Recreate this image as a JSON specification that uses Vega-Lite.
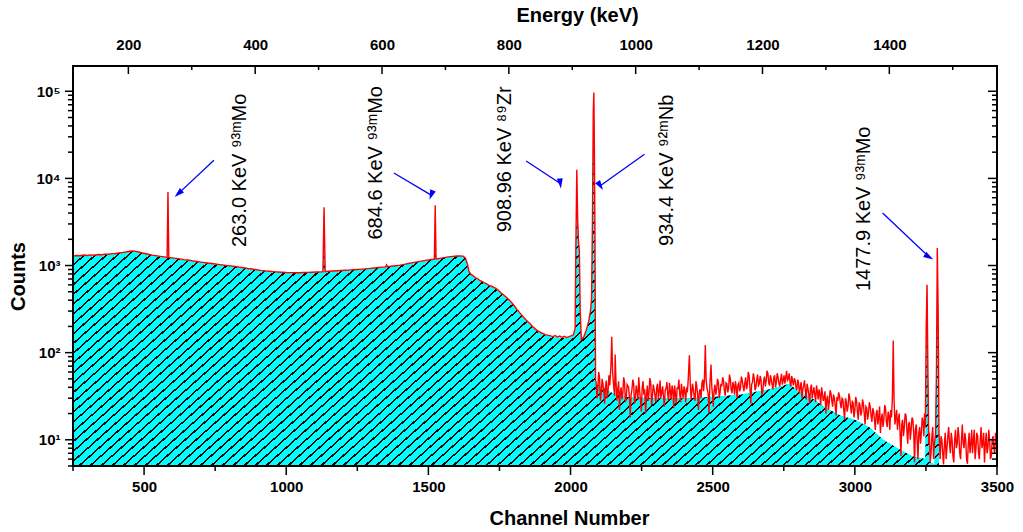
{
"$schema": "https://vega.github.io/schema/vega-lite/v6.json",
"width": 948, "height": 424,
"autosize": {"type": "none"},
"padding": {"left": 62, "top": 54, "right": 13, "bottom": 54},
"background": "white",
"config": {
  "view": {"stroke": null},
  "font": "Liberation Sans",
  "axis": {"labelFont": "Liberation Sans", "labelFontWeight": "bold", "labelFontSize": 15, "labelColor": "black",
           "titleFont": "Liberation Sans", "titleFontWeight": "bold", "titleFontSize": 20, "titleColor": "black",
           "domain": false, "ticks": false, "grid": false, "labelOverlap": false, "labelFlush": false}
},
"datasets": {
"spec": [
{"c":250,"n":1290},{"c":262,"n":1305},{"c":275,"n":1296},{"c":288,"n":1318},{"c":300,"n":1302},{"c":312,"n":1325},{"c":325,"n":1315},{"c":338,"n":1340},{"c":350,"n":1328},{"c":362,"n":1352},{"c":375,"n":1345},{"c":388,"n":1368},{"c":400,"n":1372},{"c":412,"n":1395},{"c":425,"n":1410},{"c":438,"n":1435},{"c":450,"n":1460},{"c":458,"n":1470},{"c":466,"n":1462},{"c":478,"n":1440},{"c":490,"n":1400},{"c":502,"n":1372},{"c":515,"n":1345},{"c":528,"n":1318},{"c":540,"n":1300},{"c":552,"n":1282},{"c":564,"n":1265},{"c":576,"n":1248},{"c":581,"n":1240},{"c":584,"n":6970},{"c":587,"n":1238},{"c":598,"n":1225},{"c":612,"n":1208},{"c":626,"n":1192},{"c":640,"n":1170},{"c":655,"n":1155},{"c":670,"n":1132},{"c":685,"n":1112},{"c":700,"n":1095},{"c":715,"n":1078},{"c":730,"n":1062},{"c":745,"n":1048},{"c":760,"n":1032},{"c":775,"n":1018},{"c":790,"n":1002},{"c":805,"n":990},{"c":820,"n":975},{"c":835,"n":958},{"c":850,"n":942},{"c":865,"n":925},{"c":880,"n":912},{"c":895,"n":895},{"c":910,"n":880},{"c":925,"n":868},{"c":940,"n":858},{"c":955,"n":850},{"c":970,"n":842},{"c":985,"n":836},{"c":1000,"n":830},{"c":1015,"n":828},{"c":1030,"n":826},{"c":1045,"n":827},{"c":1060,"n":830},{"c":1075,"n":834},{"c":1090,"n":838},{"c":1105,"n":842},{"c":1120,"n":846},{"c":1129,"n":848},{"c":1133,"n":4650},{"c":1137,"n":852},{"c":1148,"n":858},{"c":1162,"n":864},{"c":1178,"n":870},{"c":1192,"n":876},{"c":1206,"n":882},{"c":1220,"n":886},{"c":1235,"n":893},{"c":1250,"n":900},{"c":1265,"n":908},{"c":1280,"n":916},{"c":1295,"n":926},{"c":1310,"n":936},{"c":1325,"n":948},{"c":1340,"n":958},{"c":1350,"n":965},{"c":1353,"n":1015},{"c":1356,"n":970},{"c":1370,"n":982},{"c":1385,"n":995},{"c":1400,"n":1010},{"c":1415,"n":1032},{"c":1430,"n":1055},{"c":1445,"n":1078},{"c":1460,"n":1100},{"c":1475,"n":1122},{"c":1490,"n":1145},{"c":1505,"n":1165},{"c":1518,"n":1180},{"c":1521,"n":1185},{"c":1524,"n":4910},{"c":1527,"n":1190},{"c":1540,"n":1208},{"c":1555,"n":1232},{"c":1570,"n":1258},{"c":1585,"n":1275},{"c":1600,"n":1285},{"c":1612,"n":1290},{"c":1622,"n":1280},{"c":1630,"n":1220},{"c":1637,"n":1050},{"c":1643,"n":850},{"c":1650,"n":790},{"c":1658,"n":760},{"c":1666,"n":720},{"c":1674,"n":705},{"c":1682,"n":670},{"c":1690,"n":655},{"c":1698,"n":630},{"c":1706,"n":612},{"c":1714,"n":590},{"c":1722,"n":578},{"c":1730,"n":560},{"c":1738,"n":546},{"c":1746,"n":520},{"c":1754,"n":490},{"c":1762,"n":468},{"c":1770,"n":445},{"c":1778,"n":420},{"c":1786,"n":398},{"c":1794,"n":372},{"c":1802,"n":345},{"c":1810,"n":318},{"c":1818,"n":296},{"c":1826,"n":275},{"c":1834,"n":256},{"c":1842,"n":240},{"c":1850,"n":226},{"c":1858,"n":214},{"c":1866,"n":200},{"c":1874,"n":190},{"c":1882,"n":180},{"c":1890,"n":174},{"c":1898,"n":168},{"c":1906,"n":164},{"c":1914,"n":160},{"c":1922,"n":158},{"c":1930,"n":156},{"c":1938,"n":153},{"c":1946,"n":157},{"c":1954,"n":151},{"c":1962,"n":155},{"c":1970,"n":150},{"c":1978,"n":154},{"c":1986,"n":149},{"c":1994,"n":153},{"c":2002,"n":156},{"c":2010,"n":160},{"c":2016,"n":190},{"c":2019,"n":2000},{"c":2022,"n":12600},{"c":2025,"n":3500},{"c":2028,"n":1900},{"c":2031,"n":1500},{"c":2034,"n":300},{"c":2038,"n":142},{"c":2046,"n":150},{"c":2055,"n":180},{"c":2064,"n":230},{"c":2070,"n":300},{"c":2074,"n":420},{"c":2077,"n":3000},{"c":2080,"n":60000},{"c":2082,"n":96600},{"c":2084,"n":20000},{"c":2086,"n":2000},{"c":2088,"n":48},
{"c":2090,"n":46},{"c":2093,"n":30},{"c":2096,"n":38},{"c":2099,"n":60},{"c":2102,"n":52},{"c":2105,"n":28},{"c":2108,"n":34},{"c":2111,"n":50},{"c":2114,"n":44},{"c":2117,"n":36},{"c":2120,"n":26},{"c":2123,"n":41},{"c":2126,"n":48},{"c":2129,"n":30},{"c":2132,"n":36},{"c":2135,"n":55},{"c":2138,"n":42},{"c":2142,"n":70},{"c":2145,"n":152},{"c":2148,"n":60},{"c":2152,"n":40},{"c":2155,"n":32},{"c":2157,"n":95},{"c":2160,"n":45},{"c":2163,"n":28},{"c":2166,"n":38},{"c":2169,"n":47},{"c":2172,"n":22},{"c":2175,"n":35},{"c":2178,"n":40},{"c":2181,"n":29},{"c":2184,"n":34},{"c":2187,"n":52},{"c":2190,"n":46},{"c":2193,"n":27},{"c":2196,"n":30},{"c":2199,"n":43},
{"c":2204,"n":40},{"c":2207,"n":31},{"c":2210,"n":18},{"c":2213,"n":33},{"c":2216,"n":38},{"c":2219,"n":49},{"c":2222,"n":44},{"c":2225,"n":26},{"c":2228,"n":30},{"c":2231,"n":42},{"c":2234,"n":36},{"c":2237,"n":29},{"c":2240,"n":52},{"c":2243,"n":37},{"c":2246,"n":28},{"c":2249,"n":21},{"c":2252,"n":40},{"c":2255,"n":47},{"c":2258,"n":33},{"c":2261,"n":38},{"c":2264,"n":20},{"c":2267,"n":32},{"c":2270,"n":42},{"c":2273,"n":28},{"c":2276,"n":35},{"c":2279,"n":51},{"c":2282,"n":46},{"c":2285,"n":25},{"c":2288,"n":31},{"c":2291,"n":43},{"c":2294,"n":38},{"c":2297,"n":32},{"c":2300,"n":27},{"c":2303,"n":40},{"c":2306,"n":44},{"c":2309,"n":29},{"c":2312,"n":36},{"c":2315,"n":48},{"c":2318,"n":30},{"c":2321,"n":35},{"c":2324,"n":41},{"c":2327,"n":31},{"c":2330,"n":24},{"c":2333,"n":37},{"c":2336,"n":39},{"c":2339,"n":46},{"c":2342,"n":33},{"c":2345,"n":28},{"c":2348,"n":45},{"c":2351,"n":36},{"c":2354,"n":29},{"c":2357,"n":42},{"c":2360,"n":37},{"c":2363,"n":23},{"c":2366,"n":42},{"c":2369,"n":34},{"c":2372,"n":26},{"c":2375,"n":40},{"c":2378,"n":38},{"c":2381,"n":49},{"c":2384,"n":34},{"c":2387,"n":27},{"c":2390,"n":44},{"c":2393,"n":36},{"c":2396,"n":30},{"c":2399,"n":41},{"c":2402,"n":36},{"c":2405,"n":27},{"c":2408,"n":40},{"c":2411,"n":35},{"c":2414,"n":50},{"c":2418,"n":93},{"c":2421,"n":45},{"c":2424,"n":29},{"c":2426,"n":33},{"c":2429,"n":44},{"c":2432,"n":38},{"c":2435,"n":31},{"c":2438,"n":28},{"c":2441,"n":47},{"c":2444,"n":41},{"c":2447,"n":33},{"c":2450,"n":22},{"c":2453,"n":36},
{"c":2456,"n":38},{"c":2459,"n":30},{"c":2462,"n":44},{"c":2465,"n":49},{"c":2468,"n":36},{"c":2471,"n":50},{"c":2474,"n":122},{"c":2477,"n":48},{"c":2480,"n":39},{"c":2484,"n":34},{"c":2487,"n":20},{"c":2490,"n":42},{"c":2494,"n":73},{"c":2497,"n":40},{"c":2500,"n":31},{"c":2502,"n":24},{"c":2505,"n":37},{"c":2508,"n":43},{"c":2511,"n":33},{"c":2514,"n":38},{"c":2517,"n":50},{"c":2520,"n":46},{"c":2523,"n":30},{"c":2526,"n":35},{"c":2529,"n":44},{"c":2532,"n":41},{"c":2535,"n":52},{"c":2538,"n":48},{"c":2541,"n":37},{"c":2544,"n":32},{"c":2547,"n":45},{"c":2550,"n":44},{"c":2553,"n":35},{"c":2556,"n":39},{"c":2559,"n":56},{"c":2562,"n":50},{"c":2565,"n":38},{"c":2568,"n":34},{"c":2571,"n":46},{"c":2574,"n":42},{"c":2577,"n":33},{"c":2580,"n":47},{"c":2583,"n":40},{"c":2586,"n":30},{"c":2589,"n":43},{"c":2592,"n":45},{"c":2595,"n":36},{"c":2598,"n":40},{"c":2601,"n":53},
{"c":2604,"n":48},{"c":2607,"n":41},{"c":2610,"n":36},{"c":2613,"n":45},{"c":2616,"n":52},{"c":2619,"n":38},{"c":2622,"n":42},{"c":2625,"n":60},{"c":2628,"n":55},{"c":2631,"n":40},{"c":2634,"n":26},{"c":2637,"n":43},{"c":2640,"n":46},{"c":2643,"n":58},{"c":2646,"n":51},{"c":2649,"n":37},{"c":2652,"n":40},{"c":2655,"n":49},{"c":2658,"n":56},{"c":2661,"n":42},{"c":2664,"n":44},{"c":2667,"n":54},{"c":2670,"n":49},{"c":2673,"n":33},{"c":2676,"n":35},{"c":2679,"n":47},{"c":2682,"n":53},{"c":2685,"n":41},{"c":2688,"n":47},{"c":2691,"n":62},{"c":2694,"n":58},{"c":2697,"n":45},{"c":2700,"n":42},{"c":2703,"n":55},{"c":2706,"n":50},{"c":2709,"n":43},{"c":2712,"n":38},{"c":2715,"n":52},{"c":2718,"n":55},{"c":2721,"n":40},{"c":2724,"n":46},{"c":2727,"n":58},{"c":2730,"n":52},{"c":2733,"n":44},{"c":2736,"n":41},{"c":2739,"n":50},{"c":2742,"n":57},{"c":2745,"n":43},{"c":2748,"n":48},{"c":2751,"n":55},{"c":2754,"n":44},{"c":2757,"n":52},{"c":2760,"n":62},{"c":2763,"n":48},{"c":2766,"n":50},{"c":2769,"n":58},{"c":2772,"n":46},{"c":2775,"n":41},{"c":2778,"n":54},{"c":2781,"n":47},
{"c":2784,"n":42},{"c":2787,"n":51},{"c":2790,"n":48},{"c":2793,"n":40},{"c":2796,"n":37},{"c":2799,"n":49},{"c":2802,"n":45},{"c":2805,"n":34},{"c":2808,"n":40},{"c":2811,"n":46},{"c":2814,"n":30},{"c":2817,"n":38},{"c":2820,"n":42},{"c":2823,"n":48},{"c":2826,"n":36},{"c":2829,"n":29},{"c":2832,"n":44},{"c":2835,"n":39},{"c":2838,"n":33},{"c":2841,"n":26},{"c":2844,"n":39},{"c":2847,"n":43},{"c":2850,"n":30},{"c":2853,"n":35},{"c":2856,"n":40},{"c":2859,"n":33},{"c":2862,"n":27},{"c":2865,"n":42},{"c":2868,"n":36},{"c":2871,"n":29},{"c":2874,"n":38},{"c":2877,"n":33},{"c":2880,"n":25},{"c":2883,"n":40},{"c":2886,"n":34},{"c":2889,"n":28},{"c":2892,"n":30},{"c":2895,"n":36},{"c":2898,"n":20},{"c":2901,"n":29},
{"c":2904,"n":32},{"c":2907,"n":22},{"c":2910,"n":27},{"c":2913,"n":37},{"c":2916,"n":34},{"c":2919,"n":28},{"c":2922,"n":24},{"c":2925,"n":33},{"c":2928,"n":30},{"c":2931,"n":25},{"c":2934,"n":19},{"c":2937,"n":31},{"c":2940,"n":28},{"c":2943,"n":35},{"c":2946,"n":32},{"c":2949,"n":26},{"c":2952,"n":23},{"c":2955,"n":30},{"c":2958,"n":29},{"c":2961,"n":22},{"c":2964,"n":17},{"c":2967,"n":30},{"c":2970,"n":27},{"c":2973,"n":21},{"c":2976,"n":24},{"c":2979,"n":34},{"c":2982,"n":30},{"c":2985,"n":24},{"c":2988,"n":20},{"c":2991,"n":28},{"c":2994,"n":26},{"c":2997,"n":18},{"c":3000,"n":22},{"c":3003,"n":31},{"c":3006,"n":28},{"c":3009,"n":21},{"c":3012,"n":17},{"c":3015,"n":27},{"c":3018,"n":25},{"c":3021,"n":19},{"c":3024,"n":21},{"c":3027,"n":29},{"c":3030,"n":26},{"c":3033,"n":20},{"c":3036,"n":15},{"c":3039,"n":24},{"c":3042,"n":23},{"c":3045,"n":17},{"c":3048,"n":20},{"c":3051,"n":27},
{"c":3054,"n":24},{"c":3057,"n":19},{"c":3060,"n":16},{"c":3063,"n":23},{"c":3066,"n":21},{"c":3069,"n":17},{"c":3072,"n":13},{"c":3075,"n":20},{"c":3078,"n":22},{"c":3081,"n":15},{"c":3084,"n":18},{"c":3087,"n":24},{"c":3090,"n":12},{"c":3093,"n":17},{"c":3096,"n":20},{"c":3099,"n":14},{"c":3102,"n":17},{"c":3105,"n":25},{"c":3108,"n":23},{"c":3111,"n":16},{"c":3114,"n":14},{"c":3117,"n":21},{"c":3120,"n":19},{"c":3123,"n":13},{"c":3126,"n":22},{"c":3129,"n":18},{"c":3132,"n":30},{"c":3135,"n":138},{"c":3138,"n":28},{"c":3141,"n":15},{"c":3144,"n":18},{"c":3147,"n":22},{"c":3150,"n":13},{"c":3153,"n":17},{"c":3156,"n":20},{"c":3159,"n":12},{"c":3162,"n":6.5},{"c":3165,"n":15},{"c":3168,"n":17},{"c":3171,"n":11},{"c":3174,"n":14},{"c":3177,"n":20},{"c":3180,"n":19},{"c":3183,"n":13},{"c":3186,"n":9},{"c":3189,"n":15},{"c":3192,"n":16},{"c":3195,"n":10},{"c":3198,"n":13},{"c":3201,"n":18},
{"c":3204,"n":17},{"c":3207,"n":12},{"c":3210,"n":5.5},{"c":3213,"n":13},{"c":3216,"n":15},{"c":3219,"n":10},{"c":3222,"n":6},{"c":3225,"n":12},{"c":3228,"n":14},{"c":3231,"n":9},{"c":3234,"n":12},{"c":3237,"n":18},{"c":3240,"n":16},{"c":3243,"n":11},{"c":3245,"n":20},{"c":3248,"n":14},{"c":3251,"n":200},{"c":3254,"n":603},{"c":3257,"n":60},{"c":3260,"n":9},{"c":3262,"n":12},{"c":3265,"n":5.5},{"c":3268,"n":7},{"c":3271,"n":11},{"c":3274,"n":14},{"c":3277,"n":6},{"c":3280,"n":9},{"c":3284,"n":12},{"c":3287,"n":60},{"c":3290,"n":1590},{"c":3293,"n":300},{"c":3296,"n":12},
{"c":3300,"n":6},{"c":3303,"n":11},{"c":3306,"n":10},{"c":3309,"n":7},{"c":3312,"n":5.2},{"c":3315,"n":9},{"c":3318,"n":12},{"c":3321,"n":6},{"c":3324,"n":8},{"c":3327,"n":11},{"c":3330,"n":14},{"c":3333,"n":9},{"c":3336,"n":7},{"c":3339,"n":12},{"c":3342,"n":10},{"c":3345,"n":6.5},{"c":3348,"n":5.5},{"c":3351,"n":10},{"c":3354,"n":13},{"c":3357,"n":8},{"c":3360,"n":9},{"c":3363,"n":14},{"c":3366,"n":11},{"c":3369,"n":7},{"c":3372,"n":6},{"c":3375,"n":10},{"c":3378,"n":15},{"c":3381,"n":9},{"c":3384,"n":8},{"c":3387,"n":12},{"c":3390,"n":10},{"c":3393,"n":6},{"c":3396,"n":5.3},{"c":3399,"n":9},{"c":3402,"n":12},{"c":3405,"n":7},{"c":3408,"n":9},{"c":3411,"n":13},{"c":3414,"n":7},{"c":3417,"n":10},{"c":3420,"n":13},{"c":3423,"n":6},{"c":3426,"n":8},{"c":3429,"n":12},{"c":3432,"n":11},{"c":3435,"n":7},{"c":3438,"n":6},{"c":3441,"n":10},{"c":3444,"n":14},{"c":3447,"n":8},{"c":3450,"n":9},{"c":3453,"n":12},{"c":3456,"n":5.5},{"c":3459,"n":9},{"c":3462,"n":12},{"c":3465,"n":7},{"c":3468,"n":8},{"c":3471,"n":13},{"c":3474,"n":10},{"c":3477,"n":6},{"c":3480,"n":6.5},{"c":3483,"n":10},{"c":3486,"n":11},{"c":3489,"n":8},{"c":3492,"n":7},{"c":3495,"n":12},{"c":3498,"n":10},{"c":3500,"n":8}
],
"fill": [
{"c":250,"n":1290},{"c":300,"n":1302},{"c":350,"n":1328},{"c":400,"n":1370},{"c":458,"n":1465},{"c":502,"n":1370},{"c":552,"n":1280},{"c":581,"n":1238},{"c":584,"n":6970},{"c":587,"n":1236},{"c":640,"n":1168},{"c":700,"n":1093},{"c":760,"n":1030},{"c":820,"n":973},{"c":880,"n":910},{"c":940,"n":856},{"c":1000,"n":828},{"c":1060,"n":828},{"c":1120,"n":844},{"c":1129,"n":846},{"c":1133,"n":4650},{"c":1137,"n":850},{"c":1206,"n":880},{"c":1265,"n":906},{"c":1325,"n":946},{"c":1400,"n":1008},{"c":1460,"n":1098},{"c":1521,"n":1183},{"c":1524,"n":4910},{"c":1527,"n":1188},{"c":1585,"n":1273},{"c":1612,"n":1288},{"c":1622,"n":1278},{"c":1630,"n":1218},{"c":1637,"n":1045},{"c":1643,"n":845},{"c":1650,"n":785},{"c":1666,"n":715},{"c":1682,"n":665},{"c":1698,"n":625},{"c":1714,"n":585},{"c":1730,"n":555},{"c":1746,"n":515},{"c":1762,"n":462},{"c":1778,"n":415},{"c":1794,"n":368},{"c":1810,"n":314},{"c":1826,"n":272},{"c":1842,"n":236},{"c":1858,"n":210},{"c":1874,"n":187},{"c":1890,"n":171},{"c":1906,"n":161},{"c":1922,"n":155},{"c":1938,"n":150},{"c":1954,"n":149},{"c":1970,"n":148},{"c":1986,"n":147},{"c":2002,"n":152},{"c":2010,"n":157},{"c":2016,"n":188},{"c":2019,"n":2000},{"c":2022,"n":12600},{"c":2025,"n":3500},{"c":2028,"n":1900},{"c":2031,"n":1500},{"c":2034,"n":295},{"c":2038,"n":140},{"c":2046,"n":147},{"c":2055,"n":177},{"c":2064,"n":226},{"c":2070,"n":296},{"c":2074,"n":415},{"c":2077,"n":3000},{"c":2080,"n":60000},{"c":2082,"n":96600},{"c":2084,"n":20000},{"c":2086,"n":2000},{"c":2088,"n":46},{"c":2100,"n":42},{"c":2150,"n":34},{"c":2200,"n":31},{"c":2300,"n":30},{"c":2400,"n":30},{"c":2500,"n":31},{"c":2600,"n":33},{"c":2700,"n":38},{"c":2770,"n":44},{"c":2800,"n":36},{"c":2850,"n":30},{"c":2900,"n":23},{"c":2950,"n":19},{"c":3000,"n":17},{"c":3050,"n":14},{"c":3100,"n":10},{"c":3150,"n":8},{"c":3200,"n":6.5},{"c":3248,"n":6},{"c":3251,"n":200},{"c":3254,"n":603},{"c":3257,"n":60},{"c":3262,"n":5.6},{"c":3280,"n":5.2},{"c":3287,"n":60},{"c":3290,"n":1590},{"c":3293,"n":300},{"c":3296,"n":5.1},{"c":3300,"n":5},{"c":3500,"n":5}
],
"ann": [
{"c":836,"n":12380,"t":"263.0 KeV ⁹³ᵐMo"},
{"c":1314,"n":15100,"t":"684.6 KeV ⁹³ᵐMo"},
{"c":1768,"n":16560,"t":"908.96 KeV ⁸⁹Zr"},
{"c":2341,"n":12380,"t":"934.4 KeV ⁹²ᵐNb"},
{"c":3033,"n":4475,"t":"1477.9 KeV ⁹³ᵐMo"}
],
"arrows": [
{"id":"a","c":745.7,"n":16130,"c2":620.4,"n2":6687},
{"id":"b","c":1378.6,"n":11530,"c2":1510,"n2":6433},
{"id":"c","c":1844,"n":15835,"c2":1964,"n2":8734},
{"id":"d","c":2260,"n":18900,"c2":2104.6,"n2":8241},
{"id":"e","c":3097.8,"n":4003,"c2":3261,"n2":1254}
],
"xt": [{"v":250},{"v":500},{"v":750},{"v":1000},{"v":1250},{"v":1500},{"v":1750},{"v":2000},{"v":2250},{"v":2500},{"v":2750},{"v":3000},{"v":3250},{"v":3500}],
"yt": [{"v":5},{"v":6},{"v":7},{"v":8},{"v":9},{"v":10},{"v":20},{"v":30},{"v":40},{"v":50},{"v":60},{"v":70},{"v":80},{"v":90},{"v":100},{"v":200},{"v":300},{"v":400},{"v":500},{"v":600},{"v":700},{"v":800},{"v":900},{"v":1000},{"v":2000},{"v":3000},{"v":4000},{"v":5000},{"v":6000},{"v":7000},{"v":8000},{"v":9000},{"v":10000},{"v":20000},{"v":30000},{"v":40000},{"v":50000},{"v":60000},{"v":70000},{"v":80000},{"v":90000},{"v":100000}],
"energy": [{"e":200},{"e":300},{"e":400},{"e":500},{"e":600},{"e":700},{"e":800},{"e":900},{"e":1000},{"e":1100},{"e":1200},{"e":1300},{"e":1400},{"e":1500}]
},
"layer": [
{
 "encoding": {
   "x": {"field": "c", "type": "quantitative", "scale": {"domain": [211.31, 3545.72], "nice": false, "zero": false},
         "axis": {"orient": "bottom", "title": "Channel Number", "values": [500,1000,1500,2000,2500,3000,3500],
                  "format": "d", "domain": false, "ticks": false,
                  "labelPadding": 1, "titleX": 507, "titleY": 40, "titleBaseline": "middle", "titleAnchor": "middle"}},
   "y": {"field": "n", "type": "quantitative", "scale": {"type": "log", "domain": [3.6407, 267750], "nice": false},
         "axis": {"orient": "left", "title": "Counts",
                  "values": [10,100,1000,10000,100000],
                  "labelExpr": "datum.value==10?'10¹':datum.value==100?'10²':datum.value==1000?'10³':datum.value==10000?'10⁴':'10⁵'",
                  "domain": false, "ticks": false,
                  "labelPadding": 2, "titleAngle": 270, "titleX": -44, "titleY": 222, "titleBaseline": "middle", "titleAnchor": "middle"}}
 },
 "layer": [
   {"data": {"name": "fill"}, "mark": {"type": "area", "color": "#00ffff"}, "encoding": {"y2": {"datum": 5}}},
   {"data": {"name": "fill"},
    "mark": {"type": "area", "strokeWidth": 0,
      "fill": {"gradient": "linear", "x1": 0, "y1": 0, "x2": 1.2341, "y2": 0.5592, "stops": [
{"offset":0,"color":"#0ff"},
{"offset":0.004,"color":"#0ff"},{"offset":0.004,"color":"#000"},{"offset":0.0057,"color":"#000"},{"offset":0.0057,"color":"#0ff"},
{"offset":0.012,"color":"#0ff"},{"offset":0.012,"color":"#000"},{"offset":0.0137,"color":"#000"},{"offset":0.0137,"color":"#0ff"},
{"offset":0.020,"color":"#0ff"},{"offset":0.020,"color":"#000"},{"offset":0.0217,"color":"#000"},{"offset":0.0217,"color":"#0ff"},
{"offset":0.028,"color":"#0ff"},{"offset":0.028,"color":"#000"},{"offset":0.0297,"color":"#000"},{"offset":0.0297,"color":"#0ff"},
{"offset":0.036,"color":"#0ff"},{"offset":0.036,"color":"#000"},{"offset":0.0377,"color":"#000"},{"offset":0.0377,"color":"#0ff"},
{"offset":0.044,"color":"#0ff"},{"offset":0.044,"color":"#000"},{"offset":0.0457,"color":"#000"},{"offset":0.0457,"color":"#0ff"},
{"offset":0.052,"color":"#0ff"},{"offset":0.052,"color":"#000"},{"offset":0.0537,"color":"#000"},{"offset":0.0537,"color":"#0ff"},
{"offset":0.060,"color":"#0ff"},{"offset":0.060,"color":"#000"},{"offset":0.0617,"color":"#000"},{"offset":0.0617,"color":"#0ff"},
{"offset":0.068,"color":"#0ff"},{"offset":0.068,"color":"#000"},{"offset":0.0697,"color":"#000"},{"offset":0.0697,"color":"#0ff"},
{"offset":0.076,"color":"#0ff"},{"offset":0.076,"color":"#000"},{"offset":0.0777,"color":"#000"},{"offset":0.0777,"color":"#0ff"},
{"offset":0.084,"color":"#0ff"},{"offset":0.084,"color":"#000"},{"offset":0.0857,"color":"#000"},{"offset":0.0857,"color":"#0ff"},
{"offset":0.092,"color":"#0ff"},{"offset":0.092,"color":"#000"},{"offset":0.0937,"color":"#000"},{"offset":0.0937,"color":"#0ff"},
{"offset":0.100,"color":"#0ff"},{"offset":0.100,"color":"#000"},{"offset":0.1017,"color":"#000"},{"offset":0.1017,"color":"#0ff"},
{"offset":0.108,"color":"#0ff"},{"offset":0.108,"color":"#000"},{"offset":0.1097,"color":"#000"},{"offset":0.1097,"color":"#0ff"},
{"offset":0.116,"color":"#0ff"},{"offset":0.116,"color":"#000"},{"offset":0.1177,"color":"#000"},{"offset":0.1177,"color":"#0ff"},
{"offset":0.124,"color":"#0ff"},{"offset":0.124,"color":"#000"},{"offset":0.1257,"color":"#000"},{"offset":0.1257,"color":"#0ff"},
{"offset":0.132,"color":"#0ff"},{"offset":0.132,"color":"#000"},{"offset":0.1337,"color":"#000"},{"offset":0.1337,"color":"#0ff"},
{"offset":0.140,"color":"#0ff"},{"offset":0.140,"color":"#000"},{"offset":0.1417,"color":"#000"},{"offset":0.1417,"color":"#0ff"},
{"offset":0.148,"color":"#0ff"},{"offset":0.148,"color":"#000"},{"offset":0.1497,"color":"#000"},{"offset":0.1497,"color":"#0ff"},
{"offset":0.156,"color":"#0ff"},{"offset":0.156,"color":"#000"},{"offset":0.1577,"color":"#000"},{"offset":0.1577,"color":"#0ff"},
{"offset":0.164,"color":"#0ff"},{"offset":0.164,"color":"#000"},{"offset":0.1657,"color":"#000"},{"offset":0.1657,"color":"#0ff"},
{"offset":0.172,"color":"#0ff"},{"offset":0.172,"color":"#000"},{"offset":0.1737,"color":"#000"},{"offset":0.1737,"color":"#0ff"},
{"offset":0.180,"color":"#0ff"},{"offset":0.180,"color":"#000"},{"offset":0.1817,"color":"#000"},{"offset":0.1817,"color":"#0ff"},
{"offset":0.188,"color":"#0ff"},{"offset":0.188,"color":"#000"},{"offset":0.1897,"color":"#000"},{"offset":0.1897,"color":"#0ff"},
{"offset":0.196,"color":"#0ff"},{"offset":0.196,"color":"#000"},{"offset":0.1977,"color":"#000"},{"offset":0.1977,"color":"#0ff"},
{"offset":0.204,"color":"#0ff"},{"offset":0.204,"color":"#000"},{"offset":0.2057,"color":"#000"},{"offset":0.2057,"color":"#0ff"},
{"offset":0.212,"color":"#0ff"},{"offset":0.212,"color":"#000"},{"offset":0.2137,"color":"#000"},{"offset":0.2137,"color":"#0ff"},
{"offset":0.220,"color":"#0ff"},{"offset":0.220,"color":"#000"},{"offset":0.2217,"color":"#000"},{"offset":0.2217,"color":"#0ff"},
{"offset":0.228,"color":"#0ff"},{"offset":0.228,"color":"#000"},{"offset":0.2297,"color":"#000"},{"offset":0.2297,"color":"#0ff"},
{"offset":0.236,"color":"#0ff"},{"offset":0.236,"color":"#000"},{"offset":0.2377,"color":"#000"},{"offset":0.2377,"color":"#0ff"},
{"offset":0.244,"color":"#0ff"},{"offset":0.244,"color":"#000"},{"offset":0.2457,"color":"#000"},{"offset":0.2457,"color":"#0ff"},
{"offset":0.252,"color":"#0ff"},{"offset":0.252,"color":"#000"},{"offset":0.2537,"color":"#000"},{"offset":0.2537,"color":"#0ff"},
{"offset":0.260,"color":"#0ff"},{"offset":0.260,"color":"#000"},{"offset":0.2617,"color":"#000"},{"offset":0.2617,"color":"#0ff"},
{"offset":0.268,"color":"#0ff"},{"offset":0.268,"color":"#000"},{"offset":0.2697,"color":"#000"},{"offset":0.2697,"color":"#0ff"},
{"offset":0.276,"color":"#0ff"},{"offset":0.276,"color":"#000"},{"offset":0.2777,"color":"#000"},{"offset":0.2777,"color":"#0ff"},
{"offset":0.284,"color":"#0ff"},{"offset":0.284,"color":"#000"},{"offset":0.2857,"color":"#000"},{"offset":0.2857,"color":"#0ff"},
{"offset":0.292,"color":"#0ff"},{"offset":0.292,"color":"#000"},{"offset":0.2937,"color":"#000"},{"offset":0.2937,"color":"#0ff"},
{"offset":0.300,"color":"#0ff"},{"offset":0.300,"color":"#000"},{"offset":0.3017,"color":"#000"},{"offset":0.3017,"color":"#0ff"},
{"offset":0.308,"color":"#0ff"},{"offset":0.308,"color":"#000"},{"offset":0.3097,"color":"#000"},{"offset":0.3097,"color":"#0ff"},
{"offset":0.316,"color":"#0ff"},{"offset":0.316,"color":"#000"},{"offset":0.3177,"color":"#000"},{"offset":0.3177,"color":"#0ff"},
{"offset":0.324,"color":"#0ff"},{"offset":0.324,"color":"#000"},{"offset":0.3257,"color":"#000"},{"offset":0.3257,"color":"#0ff"},
{"offset":0.332,"color":"#0ff"},{"offset":0.332,"color":"#000"},{"offset":0.3337,"color":"#000"},{"offset":0.3337,"color":"#0ff"},
{"offset":0.340,"color":"#0ff"},{"offset":0.340,"color":"#000"},{"offset":0.3417,"color":"#000"},{"offset":0.3417,"color":"#0ff"},
{"offset":0.348,"color":"#0ff"},{"offset":0.348,"color":"#000"},{"offset":0.3497,"color":"#000"},{"offset":0.3497,"color":"#0ff"},
{"offset":0.356,"color":"#0ff"},{"offset":0.356,"color":"#000"},{"offset":0.3577,"color":"#000"},{"offset":0.3577,"color":"#0ff"},
{"offset":0.364,"color":"#0ff"},{"offset":0.364,"color":"#000"},{"offset":0.3657,"color":"#000"},{"offset":0.3657,"color":"#0ff"},
{"offset":0.372,"color":"#0ff"},{"offset":0.372,"color":"#000"},{"offset":0.3737,"color":"#000"},{"offset":0.3737,"color":"#0ff"},
{"offset":0.380,"color":"#0ff"},{"offset":0.380,"color":"#000"},{"offset":0.3817,"color":"#000"},{"offset":0.3817,"color":"#0ff"},
{"offset":0.388,"color":"#0ff"},{"offset":0.388,"color":"#000"},{"offset":0.3897,"color":"#000"},{"offset":0.3897,"color":"#0ff"},
{"offset":0.396,"color":"#0ff"},{"offset":0.396,"color":"#000"},{"offset":0.3977,"color":"#000"},{"offset":0.3977,"color":"#0ff"},
{"offset":0.404,"color":"#0ff"},{"offset":0.404,"color":"#000"},{"offset":0.4057,"color":"#000"},{"offset":0.4057,"color":"#0ff"},
{"offset":0.412,"color":"#0ff"},{"offset":0.412,"color":"#000"},{"offset":0.4137,"color":"#000"},{"offset":0.4137,"color":"#0ff"},
{"offset":0.420,"color":"#0ff"},{"offset":0.420,"color":"#000"},{"offset":0.4217,"color":"#000"},{"offset":0.4217,"color":"#0ff"},
{"offset":0.428,"color":"#0ff"},{"offset":0.428,"color":"#000"},{"offset":0.4297,"color":"#000"},{"offset":0.4297,"color":"#0ff"},
{"offset":0.436,"color":"#0ff"},{"offset":0.436,"color":"#000"},{"offset":0.4377,"color":"#000"},{"offset":0.4377,"color":"#0ff"},
{"offset":0.444,"color":"#0ff"},{"offset":0.444,"color":"#000"},{"offset":0.4457,"color":"#000"},{"offset":0.4457,"color":"#0ff"},
{"offset":0.452,"color":"#0ff"},{"offset":0.452,"color":"#000"},{"offset":0.4537,"color":"#000"},{"offset":0.4537,"color":"#0ff"},
{"offset":0.460,"color":"#0ff"},{"offset":0.460,"color":"#000"},{"offset":0.4617,"color":"#000"},{"offset":0.4617,"color":"#0ff"},
{"offset":0.468,"color":"#0ff"},{"offset":0.468,"color":"#000"},{"offset":0.4697,"color":"#000"},{"offset":0.4697,"color":"#0ff"},
{"offset":0.476,"color":"#0ff"},{"offset":0.476,"color":"#000"},{"offset":0.4777,"color":"#000"},{"offset":0.4777,"color":"#0ff"},
{"offset":0.484,"color":"#0ff"},{"offset":0.484,"color":"#000"},{"offset":0.4857,"color":"#000"},{"offset":0.4857,"color":"#0ff"},
{"offset":0.492,"color":"#0ff"},{"offset":0.492,"color":"#000"},{"offset":0.4937,"color":"#000"},{"offset":0.4937,"color":"#0ff"},
{"offset":0.500,"color":"#0ff"},{"offset":0.500,"color":"#000"},{"offset":0.5017,"color":"#000"},{"offset":0.5017,"color":"#0ff"},
{"offset":0.508,"color":"#0ff"},{"offset":0.508,"color":"#000"},{"offset":0.5097,"color":"#000"},{"offset":0.5097,"color":"#0ff"},
{"offset":0.516,"color":"#0ff"},{"offset":0.516,"color":"#000"},{"offset":0.5177,"color":"#000"},{"offset":0.5177,"color":"#0ff"},
{"offset":0.524,"color":"#0ff"},{"offset":0.524,"color":"#000"},{"offset":0.5257,"color":"#000"},{"offset":0.5257,"color":"#0ff"},
{"offset":0.532,"color":"#0ff"},{"offset":0.532,"color":"#000"},{"offset":0.5337,"color":"#000"},{"offset":0.5337,"color":"#0ff"},
{"offset":0.540,"color":"#0ff"},{"offset":0.540,"color":"#000"},{"offset":0.5417,"color":"#000"},{"offset":0.5417,"color":"#0ff"},
{"offset":0.548,"color":"#0ff"},{"offset":0.548,"color":"#000"},{"offset":0.5497,"color":"#000"},{"offset":0.5497,"color":"#0ff"},
{"offset":0.556,"color":"#0ff"},{"offset":0.556,"color":"#000"},{"offset":0.5577,"color":"#000"},{"offset":0.5577,"color":"#0ff"},
{"offset":0.564,"color":"#0ff"},{"offset":0.564,"color":"#000"},{"offset":0.5657,"color":"#000"},{"offset":0.5657,"color":"#0ff"},
{"offset":0.572,"color":"#0ff"},{"offset":0.572,"color":"#000"},{"offset":0.5737,"color":"#000"},{"offset":0.5737,"color":"#0ff"},
{"offset":0.580,"color":"#0ff"},{"offset":0.580,"color":"#000"},{"offset":0.5817,"color":"#000"},{"offset":0.5817,"color":"#0ff"},
{"offset":0.588,"color":"#0ff"},{"offset":0.588,"color":"#000"},{"offset":0.5897,"color":"#000"},{"offset":0.5897,"color":"#0ff"},
{"offset":0.596,"color":"#0ff"},{"offset":0.596,"color":"#000"},{"offset":0.5977,"color":"#000"},{"offset":0.5977,"color":"#0ff"},
{"offset":0.604,"color":"#0ff"},{"offset":0.604,"color":"#000"},{"offset":0.6057,"color":"#000"},{"offset":0.6057,"color":"#0ff"},
{"offset":0.612,"color":"#0ff"},{"offset":0.612,"color":"#000"},{"offset":0.6137,"color":"#000"},{"offset":0.6137,"color":"#0ff"},
{"offset":0.620,"color":"#0ff"},{"offset":0.620,"color":"#000"},{"offset":0.6217,"color":"#000"},{"offset":0.6217,"color":"#0ff"},
{"offset":0.628,"color":"#0ff"},{"offset":0.628,"color":"#000"},{"offset":0.6297,"color":"#000"},{"offset":0.6297,"color":"#0ff"},
{"offset":0.636,"color":"#0ff"},{"offset":0.636,"color":"#000"},{"offset":0.6377,"color":"#000"},{"offset":0.6377,"color":"#0ff"},
{"offset":0.644,"color":"#0ff"},{"offset":0.644,"color":"#000"},{"offset":0.6457,"color":"#000"},{"offset":0.6457,"color":"#0ff"},
{"offset":0.652,"color":"#0ff"},{"offset":0.652,"color":"#000"},{"offset":0.6537,"color":"#000"},{"offset":0.6537,"color":"#0ff"},
{"offset":0.660,"color":"#0ff"},{"offset":0.660,"color":"#000"},{"offset":0.6617,"color":"#000"},{"offset":0.6617,"color":"#0ff"},
{"offset":0.668,"color":"#0ff"},{"offset":0.668,"color":"#000"},{"offset":0.6697,"color":"#000"},{"offset":0.6697,"color":"#0ff"},
{"offset":0.676,"color":"#0ff"},{"offset":0.676,"color":"#000"},{"offset":0.6777,"color":"#000"},{"offset":0.6777,"color":"#0ff"},
{"offset":0.684,"color":"#0ff"},{"offset":0.684,"color":"#000"},{"offset":0.6857,"color":"#000"},{"offset":0.6857,"color":"#0ff"},
{"offset":0.692,"color":"#0ff"},{"offset":0.692,"color":"#000"},{"offset":0.6937,"color":"#000"},{"offset":0.6937,"color":"#0ff"},
{"offset":0.700,"color":"#0ff"},{"offset":0.700,"color":"#000"},{"offset":0.7017,"color":"#000"},{"offset":0.7017,"color":"#0ff"},
{"offset":0.708,"color":"#0ff"},{"offset":0.708,"color":"#000"},{"offset":0.7097,"color":"#000"},{"offset":0.7097,"color":"#0ff"},
{"offset":0.716,"color":"#0ff"},{"offset":0.716,"color":"#000"},{"offset":0.7177,"color":"#000"},{"offset":0.7177,"color":"#0ff"},
{"offset":0.724,"color":"#0ff"},{"offset":0.724,"color":"#000"},{"offset":0.7257,"color":"#000"},{"offset":0.7257,"color":"#0ff"},
{"offset":0.732,"color":"#0ff"},{"offset":0.732,"color":"#000"},{"offset":0.7337,"color":"#000"},{"offset":0.7337,"color":"#0ff"},
{"offset":0.740,"color":"#0ff"},{"offset":0.740,"color":"#000"},{"offset":0.7417,"color":"#000"},{"offset":0.7417,"color":"#0ff"},
{"offset":0.748,"color":"#0ff"},{"offset":0.748,"color":"#000"},{"offset":0.7497,"color":"#000"},{"offset":0.7497,"color":"#0ff"},
{"offset":0.756,"color":"#0ff"},{"offset":0.756,"color":"#000"},{"offset":0.7577,"color":"#000"},{"offset":0.7577,"color":"#0ff"},
{"offset":0.764,"color":"#0ff"},{"offset":0.764,"color":"#000"},{"offset":0.7657,"color":"#000"},{"offset":0.7657,"color":"#0ff"},
{"offset":0.772,"color":"#0ff"},{"offset":0.772,"color":"#000"},{"offset":0.7737,"color":"#000"},{"offset":0.7737,"color":"#0ff"},
{"offset":0.780,"color":"#0ff"},{"offset":0.780,"color":"#000"},{"offset":0.7817,"color":"#000"},{"offset":0.7817,"color":"#0ff"},
{"offset":0.788,"color":"#0ff"},{"offset":0.788,"color":"#000"},{"offset":0.7897,"color":"#000"},{"offset":0.7897,"color":"#0ff"},
{"offset":0.796,"color":"#0ff"},{"offset":0.796,"color":"#000"},{"offset":0.7977,"color":"#000"},{"offset":0.7977,"color":"#0ff"},
{"offset":0.804,"color":"#0ff"},{"offset":0.804,"color":"#000"},{"offset":0.8057,"color":"#000"},{"offset":0.8057,"color":"#0ff"},
{"offset":0.812,"color":"#0ff"},{"offset":0.812,"color":"#000"},{"offset":0.8137,"color":"#000"},{"offset":0.8137,"color":"#0ff"},
{"offset":0.820,"color":"#0ff"},{"offset":0.820,"color":"#000"},{"offset":0.8217,"color":"#000"},{"offset":0.8217,"color":"#0ff"},
{"offset":0.828,"color":"#0ff"},{"offset":0.828,"color":"#000"},{"offset":0.8297,"color":"#000"},{"offset":0.8297,"color":"#0ff"},
{"offset":0.836,"color":"#0ff"},{"offset":0.836,"color":"#000"},{"offset":0.8377,"color":"#000"},{"offset":0.8377,"color":"#0ff"},
{"offset":0.844,"color":"#0ff"},{"offset":0.844,"color":"#000"},{"offset":0.8457,"color":"#000"},{"offset":0.8457,"color":"#0ff"},
{"offset":0.852,"color":"#0ff"},{"offset":0.852,"color":"#000"},{"offset":0.8537,"color":"#000"},{"offset":0.8537,"color":"#0ff"},
{"offset":0.860,"color":"#0ff"},{"offset":0.860,"color":"#000"},{"offset":0.8617,"color":"#000"},{"offset":0.8617,"color":"#0ff"},
{"offset":0.868,"color":"#0ff"},{"offset":0.868,"color":"#000"},{"offset":0.8697,"color":"#000"},{"offset":0.8697,"color":"#0ff"},
{"offset":0.876,"color":"#0ff"},{"offset":0.876,"color":"#000"},{"offset":0.8777,"color":"#000"},{"offset":0.8777,"color":"#0ff"},
{"offset":0.884,"color":"#0ff"},{"offset":0.884,"color":"#000"},{"offset":0.8857,"color":"#000"},{"offset":0.8857,"color":"#0ff"},
{"offset":0.892,"color":"#0ff"},{"offset":0.892,"color":"#000"},{"offset":0.8937,"color":"#000"},{"offset":0.8937,"color":"#0ff"},
{"offset":0.900,"color":"#0ff"},{"offset":0.900,"color":"#000"},{"offset":0.9017,"color":"#000"},{"offset":0.9017,"color":"#0ff"},
{"offset":0.908,"color":"#0ff"},{"offset":0.908,"color":"#000"},{"offset":0.9097,"color":"#000"},{"offset":0.9097,"color":"#0ff"},
{"offset":0.916,"color":"#0ff"},{"offset":0.916,"color":"#000"},{"offset":0.9177,"color":"#000"},{"offset":0.9177,"color":"#0ff"},
{"offset":0.924,"color":"#0ff"},{"offset":0.924,"color":"#000"},{"offset":0.9257,"color":"#000"},{"offset":0.9257,"color":"#0ff"},
{"offset":0.932,"color":"#0ff"},{"offset":0.932,"color":"#000"},{"offset":0.9337,"color":"#000"},{"offset":0.9337,"color":"#0ff"},
{"offset":0.940,"color":"#0ff"},{"offset":0.940,"color":"#000"},{"offset":0.9417,"color":"#000"},{"offset":0.9417,"color":"#0ff"},
{"offset":0.948,"color":"#0ff"},{"offset":0.948,"color":"#000"},{"offset":0.9497,"color":"#000"},{"offset":0.9497,"color":"#0ff"},
{"offset":0.956,"color":"#0ff"},{"offset":0.956,"color":"#000"},{"offset":0.9577,"color":"#000"},{"offset":0.9577,"color":"#0ff"},
{"offset":0.964,"color":"#0ff"},{"offset":0.964,"color":"#000"},{"offset":0.9657,"color":"#000"},{"offset":0.9657,"color":"#0ff"},
{"offset":0.972,"color":"#0ff"},{"offset":0.972,"color":"#000"},{"offset":0.9737,"color":"#000"},{"offset":0.9737,"color":"#0ff"},
{"offset":0.980,"color":"#0ff"},{"offset":0.980,"color":"#000"},{"offset":0.9817,"color":"#000"},{"offset":0.9817,"color":"#0ff"},
{"offset":0.988,"color":"#0ff"},{"offset":0.988,"color":"#000"},{"offset":0.9897,"color":"#000"},{"offset":0.9897,"color":"#0ff"},
{"offset":0.996,"color":"#0ff"},{"offset":0.996,"color":"#000"},{"offset":0.9977,"color":"#000"},{"offset":0.9977,"color":"#0ff"},
{"offset":1,"color":"#0ff"}
      ]}},
    "encoding": {"y2": {"datum": 5}}},
   {"data": {"name": "spec"}, "mark": {"type": "line", "color": "#ff0000", "strokeWidth": 1.4}},
   {"data": {"name": "arrows"}, "mark": {"type": "rule", "color": "#0000ff", "strokeWidth": 1.3},
    "encoding": {"x2": {"field": "c2"}, "y2": {"field": "n2"}}},
   {"data": {"name": "arrows"}, "mark": {"type": "point", "shape": "M0,-1L0.6,1L-0.6,1Z", "filled": true, "size": 100, "color": "#0000ff", "opacity": 1},
    "encoding": {"x": {"field": "c2", "type": "quantitative"}, "y": {"field": "n2", "type": "quantitative"},
                 "angle": {"field": "id", "type": "nominal", "scale": {"domain": ["a","b","c","d","e"], "range": [227,120.5,123.5,234.6,133.4]}, "legend": null}}},
   {"data": {"name": "ann"}, "mark": {"type": "text", "angle": 270, "fontSize": 20, "font": "Liberation Sans", "align": "center", "baseline": "middle", "color": "#000"},
    "encoding": {"text": {"field": "t"}}}
 ]
},
{
 "data": {"name": "energy"},
 "encoding": {
   "x": {"field": "e", "type": "quantitative", "scale": {"domain": [95.35, 1590.30], "nice": false, "zero": false},
         "axis": {"orient": "top", "title": "Energy (keV)", "values": [200,400,600,800,1000,1200,1400],
                  "format": "d", "domain": false, "ticks": false,
                  "labelPadding": 2, "titleX": 515, "titleY": -38.5, "titleBaseline": "middle", "titleAnchor": "middle"}},
   "y": {"datum": 195000, "type": "quantitative", "scale": {"type": "log", "domain": [3.6407, 267750], "nice": false}, "axis": null}
 },
 "layer": [
   {"transform": [{"filter": "datum.e % 200 == 0"}],
    "mark": {"type": "rule", "color": "black", "strokeWidth": 1.5},
    "encoding": {"y2": {"datum": 157830}}},
   {"transform": [{"filter": "datum.e % 200 != 0"}],
    "mark": {"type": "rule", "color": "black", "strokeWidth": 1.5},
    "encoding": {"y2": {"datum": 175440}}}
 ]
},
{
 "layer": [
   {"data": {"values": [{}]}, "mark": {"type": "rule", "color": "black", "strokeWidth": 2, "strokeCap": "square"},
    "encoding": {"x": {"datum": 250, "type": "quantitative", "scale": {"domain": [211.31, 3545.72], "nice": false, "zero": false}, "axis": null},
                 "x2": {"datum": 3500},
                 "y": {"datum": 5, "type": "quantitative", "scale": {"type": "log", "domain": [3.6407, 267750], "nice": false}, "axis": null}}},
   {"data": {"values": [{}]}, "mark": {"type": "rule", "color": "black", "strokeWidth": 2, "strokeCap": "square"},
    "encoding": {"x": {"datum": 250, "type": "quantitative", "scale": {"domain": [211.31, 3545.72], "nice": false, "zero": false}, "axis": null},
                 "x2": {"datum": 3500},
                 "y": {"datum": 195000, "type": "quantitative", "scale": {"type": "log", "domain": [3.6407, 267750], "nice": false}, "axis": null}}},
   {"data": {"values": [{}]}, "mark": {"type": "rule", "color": "black", "strokeWidth": 2, "strokeCap": "square"},
    "encoding": {"x": {"datum": 250, "type": "quantitative", "scale": {"domain": [211.31, 3545.72], "nice": false, "zero": false}, "axis": null},
                 "y": {"datum": 5, "type": "quantitative", "scale": {"type": "log", "domain": [3.6407, 267750], "nice": false}, "axis": null},
                 "y2": {"datum": 195000}}},
   {"data": {"values": [{}]}, "mark": {"type": "rule", "color": "black", "strokeWidth": 2, "strokeCap": "square"},
    "encoding": {"x": {"datum": 3500, "type": "quantitative", "scale": {"domain": [211.31, 3545.72], "nice": false, "zero": false}, "axis": null},
                 "y": {"datum": 5, "type": "quantitative", "scale": {"type": "log", "domain": [3.6407, 267750], "nice": false}, "axis": null},
                 "y2": {"datum": 195000}}},
   {"data": {"name": "xt"}, "transform": [{"filter": "datum.v % 500 == 0"}],
    "mark": {"type": "rule", "color": "black", "strokeWidth": 1.5},
    "encoding": {"x": {"field": "v", "type": "quantitative", "scale": {"domain": [211.31, 3545.72], "nice": false, "zero": false}, "axis": null},
                 "y": {"datum": 5, "type": "quantitative", "scale": {"type": "log", "domain": [3.6407, 267750], "nice": false}, "axis": null},
                 "y2": {"datum": 3.942}}},
   {"data": {"name": "xt"}, "transform": [{"filter": "datum.v % 500 != 0"}],
    "mark": {"type": "rule", "color": "black", "strokeWidth": 1.5},
    "encoding": {"x": {"field": "v", "type": "quantitative", "scale": {"domain": [211.31, 3545.72], "nice": false, "zero": false}, "axis": null},
                 "y": {"datum": 5, "type": "quantitative", "scale": {"type": "log", "domain": [3.6407, 267750], "nice": false}, "axis": null},
                 "y2": {"datum": 4.381}}},
   {"data": {"name": "yt"}, "transform": [{"filter": "datum.v==10||datum.v==100||datum.v==1000||datum.v==10000||datum.v==100000"}],
    "mark": {"type": "rule", "color": "black", "strokeWidth": 1.5},
    "encoding": {"y": {"field": "v", "type": "quantitative", "scale": {"type": "log", "domain": [3.6407, 267750], "nice": false}, "axis": null},
                 "x": {"datum": 250, "type": "quantitative", "scale": {"domain": [211.31, 3545.72], "nice": false, "zero": false}, "axis": null},
                 "x2": {"datum": 221.86}}},
   {"data": {"name": "yt"}, "transform": [{"filter": "!(datum.v==10||datum.v==100||datum.v==1000||datum.v==10000||datum.v==100000)"}],
    "mark": {"type": "rule", "color": "black", "strokeWidth": 1.5},
    "encoding": {"y": {"field": "v", "type": "quantitative", "scale": {"type": "log", "domain": [3.6407, 267750], "nice": false}, "axis": null},
                 "x": {"datum": 250, "type": "quantitative", "scale": {"domain": [211.31, 3545.72], "nice": false, "zero": false}, "axis": null},
                 "x2": {"datum": 232.4}}},
   {"data": {"name": "yt"}, "transform": [{"filter": "datum.v==10||datum.v==100||datum.v==1000||datum.v==10000||datum.v==100000"}],
    "mark": {"type": "rule", "color": "black", "strokeWidth": 1.5},
    "encoding": {"y": {"field": "v", "type": "quantitative", "scale": {"type": "log", "domain": [3.6407, 267750], "nice": false}, "axis": null},
                 "x": {"datum": 3500, "type": "quantitative", "scale": {"domain": [211.31, 3545.72], "nice": false, "zero": false}, "axis": null},
                 "x2": {"datum": 3468.3}}},
   {"data": {"name": "yt"}, "transform": [{"filter": "!(datum.v==10||datum.v==100||datum.v==1000||datum.v==10000||datum.v==100000)"}],
    "mark": {"type": "rule", "color": "black", "strokeWidth": 1.5},
    "encoding": {"y": {"field": "v", "type": "quantitative", "scale": {"type": "log", "domain": [3.6407, 267750], "nice": false}, "axis": null},
                 "x": {"datum": 3500, "type": "quantitative", "scale": {"domain": [211.31, 3545.72], "nice": false, "zero": false}, "axis": null},
                 "x2": {"datum": 3482.4}}}
 ]
}
],
"resolve": {"scale": {"x": "independent"}, "axis": {"x": "independent", "y": "independent"}}
}
